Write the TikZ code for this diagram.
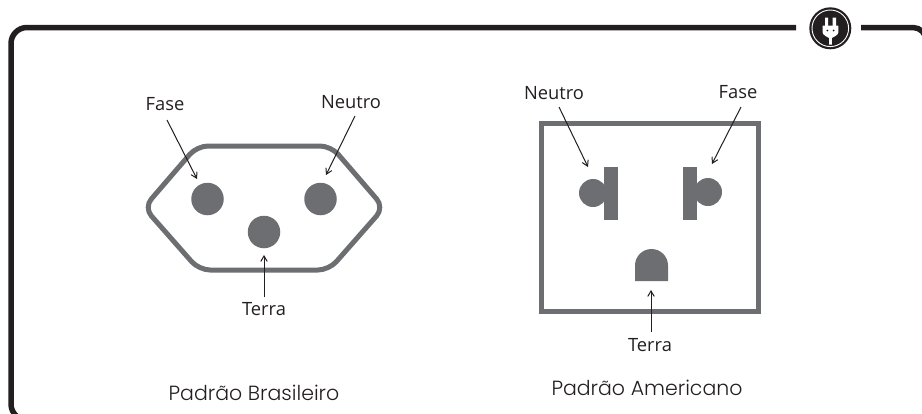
\documentclass[tikz,border=0pt]{standalone}
\usepackage{fontspec}
\setmainfont{Open Sans}
\newfontfamily\capfont{Poppins Light}
\usetikzlibrary{arrows.meta}
\definecolor{plug}{HTML}{6D6E71}
\definecolor{ink}{HTML}{231F20}
\tikzset{
  frameline/.style={draw=ink,line width=5.5pt},
  outline/.style={draw=plug,line width=5pt},
  pin/.style={fill=plug,draw=none},
  pointer/.style={draw=ink,line width=1pt,-{Straight Barb[length=5.5pt,width=6.5pt]}},
  lbl/.style={inner sep=0pt,text=ink,font=\fontsize{18.3pt}{20pt}\selectfont},
  captext/.style={inner sep=0pt,text=ink,font=\capfont\fontsize{20.5pt}{22pt}\selectfont},
}
\begin{document}
\begin{tikzpicture}[x=1pt,y=-1pt]
\useasboundingbox (0,0) rectangle (922,413);
% frame
\draw[frameline,rounded corners=16pt] (796,27.5) -- (11,27.5) -- (11,420) -- (40,420);
\draw[frameline,rounded corners=13pt] (861,27.5) -- (926,27.5) -- (926,60);
% badge
\fill[ink] (830.3,28.3) circle[radius=21];
\draw[white,line width=0.9pt] (830.3,28.3) circle[radius=18.3];
\fill[white] (825,17.7) rectangle (828.2,26.5) (832.7,17.7) rectangle (836,26.5);
\fill[white] (822.7,25.7) -- (838.3,25.7) -- (838.3,32.5) .. controls (838.3,35) and (833.5,37) .. (831.8,38) -- (831.8,44.5) -- (829,44.5) -- (829,38) .. controls (827.3,37) and (822.7,35) .. (822.7,32.5) -- cycle;
\fill[ink] (827.3,30.5) circle[radius=1] (833.5,30.5) circle[radius=1];
% Brazilian socket
\draw[outline,rounded corners=11pt] (144,207.5) -- (197,146) -- (331,146) -- (384,207.5) -- (329,270) -- (199,270) -- cycle;
\node[pin,circle,minimum size=32.5pt,inner sep=0pt] (brF) at (207.5,199) {};
\node[pin,circle,minimum size=32.5pt,inner sep=0pt] (brN) at (320.5,199) {};
\node[pin,circle,minimum size=32.5pt,inner sep=0pt] (brT) at (264,232) {};
\node[lbl] (lbrF) at (165,104) {Fase};
\node[lbl] (lbrN) at (351,102) {Neutro};
\node[lbl] (lbrT) at (264,309) {Terra};
\coordinate (a1) at (167,120); \coordinate (a2) at (197,179);
\coordinate (b1) at (355,116); \coordinate (b2) at (326,175);
\coordinate (c1) at (264,297); \coordinate (c2) at (264,255);
\draw[pointer] (a1) -- (a2);
\draw[pointer] (b1) -- (b2);
\draw[pointer] (c1) -- (c2);
\node[captext] (capB) at (254,393) {Padrão Brasileiro};
% American socket
\draw[outline,line width=5pt] (541.5,123.5) rectangle (758.5,311.5);
\fill[pin] (593,193) circle[radius=14];
\fill[pin] (604,167) rectangle (618,220);
\fill[pin] (708,192) circle[radius=14];
\fill[pin] (683,167) rectangle (697,220);
\fill[pin] (635,281) -- (635,265.5) arc[start angle=180,end angle=360,radius=16.5] -- (668,281) -- cycle;
\node[lbl] (lamN) at (554,93) {Neutro};
\node[lbl] (lamF) at (738,92) {Fase};
\node[lbl] (lamT) at (650,345) {Terra};
\coordinate (d1) at (559,107); \coordinate (d2) at (588,167);
\coordinate (e1) at (741,107); \coordinate (e2) at (712,164);
\coordinate (f1) at (651,332); \coordinate (f2) at (651,290);
\draw[pointer] (d1) -- (d2);
\draw[pointer] (e1) -- (e2);
\draw[pointer] (f1) -- (f2);
\node[captext] (capA) at (647,388) {Padrão Americano};
\end{tikzpicture}
\end{document}
